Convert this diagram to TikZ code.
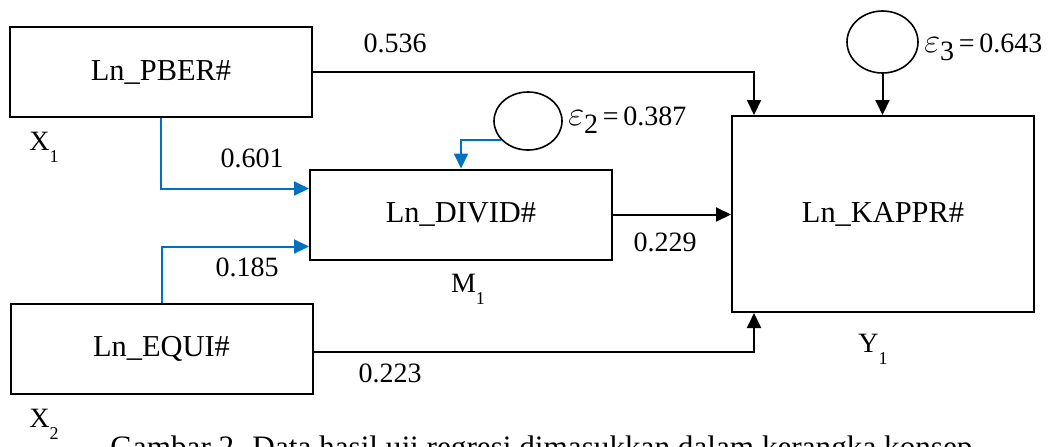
\documentclass[tikz,border=0pt]{standalone}
\usepackage{fontspec}
\setmainfont{Liberation Serif}
\usetikzlibrary{positioning,arrows.meta,shapes.geometric}
\definecolor{pathblue}{RGB}{0,112,192}

\newcommand{\sublbl}[2]{#1\raisebox{-6pt}{\fontsize{9}{9}\selectfont #2}}
\newcommand{\errlbl}[2]{{\fontsize{18}{18}\selectfont$\varepsilon$}\raisebox{-4pt}{#1}\,=\,#2}

\begin{document}
\begin{tikzpicture}[x=0.5pt, y=-0.5pt,
  every node/.style={font=\fontsize{14}{16}\selectfont, inner sep=0pt},
  var/.style={draw, line width=1pt, minimum width=151pt, minimum height=45pt,
    font=\fontsize{15.2}{17}\selectfont},
  bigvar/.style={var, minimum height=98pt},
  err/.style={ellipse, draw, line width=0.8pt, minimum width=34pt, minimum height=29pt},
  coef/.style={font=\fontsize{14}{16}\selectfont},
  flow/.style={-{Triangle[length=7.5pt,width=7pt]}, line width=1pt},
  bflow/.style={flow, draw=pathblue, color=pathblue}
]
\useasboundingbox (0,0) rectangle (1054,446);
% Variables
\node[var] (pber) at (161,72) {Ln\_PBER\#};
\node[var] (equi) at (161.5,349) {Ln\_EQUI\#};
\node[var] (divid) at (461,214.5) {Ln\_DIVID\#};
\node[bigvar] (kappr) at (883,214) {Ln\_KAPPR\#};
\node (x1) at (44,147) {\sublbl{X}{1}};
\node (x2) at (44,424) {\sublbl{X}{2}};
\node (m1) at (468,289) {\sublbl{M}{1}};
\node (y1) at (873,349) {\sublbl{Y}{1}};
% Errors
\node[err] (e2) at (528,121) {};
\node[err, minimum width=35.5pt, minimum height=31pt] (e3) at (882.5,42) {};
\node[anchor=west] (e2lbl) at (568,120) {\errlbl{2}{0.387}};
\node[anchor=west] (e3lbl) at (924,47) {\errlbl{3}{0.643}};
% Paths to mediator
\draw[bflow] (pber.south) |- ([yshift=13pt]divid.west);
\draw[bflow] (equi.north) |- ([yshift=-16pt]divid.west);
\draw[bflow] (e2.215) -| (divid.north);
% Paths to outcome
\draw[flow] (divid.east) -- (divid.east -| kappr.west);
\draw[flow] (pber.east) -| ([xshift=11.5pt]kappr.north west);
\draw[flow] ([yshift=-1.5pt]equi.east) -| ([xshift=11.5pt]kappr.south west);
\draw[flow] (e3) -- (e3 |- kappr.north);
% Coefficients
\node[coef] (c1) at (395,43) {0.536};
\node[coef] (c2) at (252,158) {0.601};
\node[coef] (c3) at (247,267) {0.185};
\node[coef] (c4) at (665,242) {0.229};
\node[coef] (c5) at (390,373) {0.223};
% Caption (cut off at the bottom edge, as in the source)
\node[anchor=base west, font=\fontsize{15.6}{18}\selectfont] (cap) at (110,457.5)
  {Gambar 2. Data hasil uji regresi dimasukkan dalam kerangka konsep};
\end{tikzpicture}
\end{document}
